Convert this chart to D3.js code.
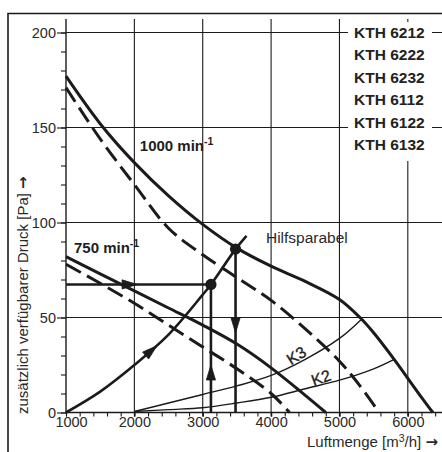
<!DOCTYPE html>
<html><head><meta charset="utf-8">
<script src="https://cdn.jsdelivr.net/npm/d3@7"></script>
<style>
body{margin:0;background:#fff}
svg{display:block}
text{font-family:"Liberation Sans",Arial,Helvetica,sans-serif}
</style>
</head><body>
<svg id="c" width="442" height="452"></svg>
<script>
// ---------- data ----------
const xTicks = [1000, 2000, 3000, 4000, 5000, 6000];
const yTicks = [0, 50, 100, 150, 200];
const xMinorStep = 200;
const yMinorStep = 10;
const legendLabels = ["KTH 6212", "KTH 6222", "KTH 6232", "KTH 6112", "KTH 6122", "KTH 6132"];
const speedLabels = ["1000 min", "750 min"];
const xTitle = "Luftmenge [m";
const yTitle = "zusätzlich verfügbarer Druck [Pa] ";

// fan curves [airflow m3/h, pressure Pa]
const solid1000 = [[1000,177],[1500,152],[2000,131.5],[2500,114],[3000,99],[3500,86.5],[4000,77],[4500,69],[5000,59.5],[5300,50],[5500,42],[5800,28],[6000,18],[6200,8],[6366,0]];
const dashed1000 = [[1000,171],[1500,144],[2000,120],[2500,97],[3000,83],[3500,71],[4000,59],[4500,44],[5000,27],[5300,14],[5580,0]];
const solid750 = [[1000,82],[1500,73],[2000,64],[2500,55],[3000,46],[3500,36],[4000,23.5],[4500,9],[4800,0]];
const dashed750 = [[1000,78],[1500,68],[2000,57.5],[2500,46],[3000,34.5],[3500,23],[4000,10],[4270,0]];
// system curves
const hilfsparabel = [[1000,0],[1500,11],[2000,25],[2500,41],[3000,62],[3120,67.4],[3480,86],[3640,93]];
const k3 = [[2000,0.5],[2500,5],[3000,9.5],[3500,14],[4000,19.5],[4500,28],[5000,39],[5320,49]];
const k2 = [[2000,0.5],[2500,1.5],[3000,2.5],[3500,5],[4000,8],[4500,12.5],[5000,17],[5500,23],[5800,28]];
// example operating points
const pointRequired = [3120, 67.4];
const pointActual = [3480, 86];

// ---------- layout ----------
const svg = d3.select("#c");
const ink = "#1b1b1b";
const x = d3.scaleLinear().domain([1000, 6500]).range([66, 442]);
const y = d3.scaleLinear().domain([0, 200]).range([412.5, 32.5]);

// frame
svg.append("path").attr("d", "M8,452V13.5H442").attr("fill", "none")
  .attr("stroke", ink).attr("stroke-width", 1.6);

// grid
const grid = svg.append("g").attr("stroke", ink).attr("stroke-width", 1.1);
grid.selectAll("line.hg").data(yTicks).join("line").attr("class", "hg")
  .attr("x1", x(1000)).attr("x2", x(6500))
  .attr("y1", d => y(d)).attr("y2", d => y(d));
grid.selectAll("line.vg").data(xTicks).join("line").attr("class", "vg")
  .attr("x1", d => x(d)).attr("x2", d => x(d))
  .attr("y1", 19).attr("y2", d => d === 1000 ? y(0) : y(0) + 4)
  .attr("stroke-width", d => d === 1000 ? 1.4 : 1.1);

// y axis ticks
const yMinor = d3.range(0, 201, yMinorStep);
const yAxisMinor = svg.append("g").attr("transform", `translate(${x(1000)},0)`)
  .call(d3.axisLeft(y).tickValues(yMinor).tickSize(5).tickFormat(""));
yAxisMinor.select(".domain").remove();
const yAxis = svg.append("g").attr("transform", `translate(${x(1000)},0)`)
  .call(d3.axisLeft(y).tickValues(yTicks).tickSize(9).tickPadding(1).tickFormat(d3.format("d")));
yAxis.select(".domain").remove();
[yAxisMinor, yAxis].forEach(a => a.selectAll("line").attr("stroke", ink).attr("stroke-width", 1.1));
yAxis.attr("font-family", null).attr("font-size", 14.5);
yAxis.selectAll("text").attr("fill", "#2a2a2a");

// x axis ticks
const xMinor = d3.range(1000, 6501, xMinorStep);
const xAxisMinor = svg.append("g").attr("transform", `translate(0,${y(0)})`)
  .call(d3.axisBottom(x).tickValues(xMinor).tickSize(4).tickFormat(""));
xAxisMinor.select(".domain").remove();
const xAxis = svg.append("g").attr("transform", `translate(0,${y(0)})`)
  .call(d3.axisBottom(x).tickValues(xTicks).tickSize(4).tickPadding(0).tickFormat(d3.format("d")));
xAxis.select(".domain").remove();
[xAxisMinor, xAxis].forEach(a => a.selectAll("line").attr("stroke", ink).attr("stroke-width", 1.1));
xAxis.attr("font-family", null).attr("font-size", 14.5);
xAxis.selectAll("text").attr("fill", "#2a2a2a").attr("dx", d => d === 1000 ? 5 : 0);
// x axis base line
svg.append("line").attr("x1", x(1000)).attr("x2", x(6500)).attr("y1", y(0)).attr("y2", y(0))
  .attr("stroke", ink).attr("stroke-width", 1.4);

// legend background (covers grid)
svg.append("rect").attr("x", 348).attr("y", 22).attr("width", 84).attr("height", 139).attr("fill", "#fff");
svg.append("g").selectAll("text").data(legendLabels).join("text")
  .attr("x", 354).attr("y", (d, i) => 37.5 + i * 22.5)
  .attr("font-size", 15.5).attr("font-weight", "bold").attr("fill", "#222").text(d => d);

// curves
const line = d3.line().x(d => x(d[0])).y(d => y(d[1])).curve(d3.curveCatmullRom.alpha(0.5));
const curves = svg.append("g").attr("fill", "none").attr("stroke", ink).attr("stroke-linecap", "butt");
[[solid1000, false], [dashed1000, true], [solid750, false], [dashed750, true]].forEach(([d, dash]) => {
  curves.append("path").attr("d", line(d)).attr("stroke-width", 3)
    .attr("stroke-dasharray", dash ? "17,7" : null);
});
curves.append("path").attr("d", line(k3)).attr("stroke-width", 1.4);
curves.append("path").attr("d", line(k2)).attr("stroke-width", 1.4);
const parPath = curves.append("path").attr("d", line(hilfsparabel)).attr("stroke-width", 2.6);

// arrow construction lines
const arr = svg.append("g").attr("stroke", ink).attr("stroke-width", 2.6);
arr.append("line").attr("x1", x(1000)).attr("x2", x(pointRequired[0]))
  .attr("y1", y(pointRequired[1])).attr("y2", y(pointRequired[1]));
arr.append("line").attr("x1", x(pointRequired[0])).attr("x2", x(pointRequired[0]))
  .attr("y1", y(0)).attr("y2", y(pointRequired[1]));
arr.append("line").attr("x1", x(pointActual[0])).attr("x2", x(pointActual[0]))
  .attr("y1", y(0)).attr("y2", y(pointActual[1]));

function head(tx, ty, ang) {
  const L = 15, W = 4.6;
  const bx = tx - L * Math.cos(ang), by = ty - L * Math.sin(ang);
  const px = -Math.sin(ang) * W, py = Math.cos(ang) * W;
  return `M${tx},${ty}L${bx + px},${by + py}L${bx - px},${by - py}Z`;
}
const heads = svg.append("g").attr("fill", ink).attr("stroke", ink).attr("stroke-width", 0.8).attr("stroke-linejoin", "miter");
heads.append("path").attr("d", head(x(2040), y(pointRequired[1]), 0));
heads.append("path").attr("d", head(x(pointRequired[0]), y(25), -Math.PI / 2));
heads.append("path").attr("d", head(x(pointActual[0]), y(42), Math.PI / 2));
// arrow on Hilfsparabel, following the curve
(function () {
  const node = parPath.node(), total = node.getTotalLength();
  const tx = x(2330);
  let lo = 0, hi = total;
  for (let i = 0; i < 40; i++) { const m = (lo + hi) / 2; if (node.getPointAtLength(m).x < tx) lo = m; else hi = m; }
  const p = node.getPointAtLength(lo), q = node.getPointAtLength(lo - 15);
  heads.append("path").attr("d", head(p.x, p.y, Math.atan2(p.y - q.y, p.x - q.x)));
})();

// operating points
svg.append("g").selectAll("circle").data([pointRequired, pointActual]).join("circle")
  .attr("cx", d => x(d[0])).attr("cy", d => y(d[1])).attr("r", 5.6).attr("fill", ink);

// speed labels
function speed(label, dx, dy) {
  const t = svg.append("text").attr("x", x(dx)).attr("y", y(dy))
    .attr("font-size", 15).attr("font-weight", "bold").attr("fill", "#1e1e1e").text(label);
  t.append("tspan").attr("dy", -6).attr("font-size", 10.5).text("-1");
}
speed(speedLabels[0], 2080, 137.5);
speed(speedLabels[1], 1117, 84);

svg.append("text").attr("x", x(3925)).attr("y", y(89.2)).attr("font-size", 15.5)
  .attr("fill", "#2a2a2a").text("Hilfsparabel");

// K labels along system curves
function kLabel(label, cx, cy, ang) {
  svg.append("text").attr("transform", `translate(${x(cx)},${y(cy)}) rotate(${ang})`)
    .attr("text-anchor", "middle").attr("dy", "0.35em").attr("font-size", 16)
    .attr("fill", "#1e1e1e").attr("stroke", "#1e1e1e").attr("stroke-width", 0.35).text(label);
}
kLabel("K3", 4370, 30, -32);
kLabel("K2", 4730, 18.3, -20);

// axis titles
const yt = svg.append("text").attr("transform", "translate(28,414) rotate(-90)")
  .attr("font-size", 15).attr("fill", "#2a2a2a").text(yTitle);
yt.append("tspan").attr("font-family", "DejaVu Sans").attr("font-weight", "bold").attr("font-size", 15).text("\u2192");
const xt = svg.append("text").attr("x", 438).attr("y", 447).attr("text-anchor", "end")
  .attr("font-size", 15).attr("fill", "#2a2a2a").text(xTitle);
xt.append("tspan").attr("dy", -5.5).attr("font-size", 10.5).text("3");
xt.append("tspan").attr("dy", 5.5).text("/h] ");
xt.append("tspan").attr("font-family", "DejaVu Sans").attr("font-weight", "bold").text("\u2192");
</script>
</body></html>
